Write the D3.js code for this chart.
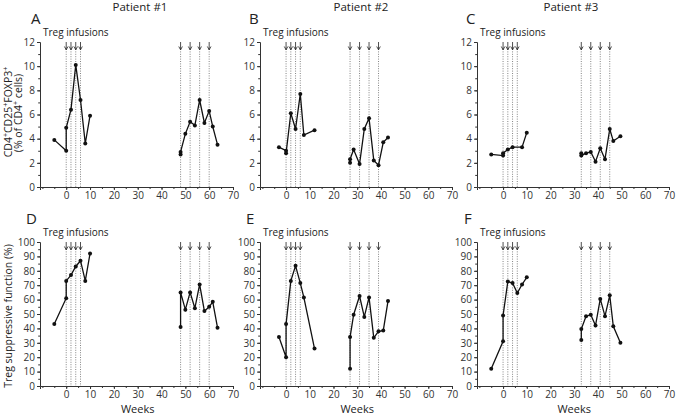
<!DOCTYPE html>
<html><head><meta charset="utf-8">
<script src="https://cdn.jsdelivr.net/npm/d3@7"></script>
<style>
body{margin:0;background:#fff;}
svg{display:block;font-family:"Open Sans",sans-serif;}
</style></head>
<body><svg id="c" width="677" height="415"></svg>
<script>
// ---- data ----
const patients = ["Patient #1", "Patient #2", "Patient #3"];
const panelLetters = ["A", "B", "C", "D", "E", "F"];
const infusions = [
  [0, 2, 4, 6, 48, 52, 56, 60],
  [0, 2, 4, 6, 27, 31, 35, 39],
  [0, 2, 4, 6, 33, 37, 41, 45]
];
// CD4+CD25+FOXP3+ (% of CD4+ cells)
const aWeeks1 = [-5, 0, 0, 2, 4, 6, 8, 10];
const aVals1  = [3.9, 3.0, 4.9, 6.4, 10.1, 7.2, 3.6, 5.9];
const aWeeks2 = [48, 48, 50, 52, 54, 56, 58, 60, 61.5, 63.5];
const aVals2  = [2.7, 2.9, 4.4, 5.4, 5.1, 7.2, 5.3, 6.3, 5.0, 3.5];
const bWeeks1 = [-3, 0, 0, 2, 4, 6, 7.5, 12];
const bVals1  = [3.3, 3.0, 2.8, 6.1, 4.8, 7.7, 4.3, 4.7];
const bWeeks2 = [27, 27, 28.5, 31, 33, 35, 37, 39, 41, 43];
const bVals2  = [2.0, 2.3, 3.1, 1.9, 4.8, 5.7, 2.2, 1.8, 3.7, 4.1];
const cWeeks1 = [-5, 0, 0, 2, 4, 8, 10];
const cVals1  = [2.7, 2.6, 2.8, 3.1, 3.3, 3.3, 4.5];
const cWeeks2 = [33, 33, 35, 37, 39, 41, 43, 45, 46.5, 49.5];
const cVals2  = [2.8, 2.6, 2.8, 2.9, 2.1, 3.2, 2.3, 4.8, 3.8, 4.2];
// Treg suppressive function (%)
const dWeeks1 = [-5, 0, 0, 2, 4, 6, 8, 10];
const dVals1  = [43, 61, 73, 77, 83, 87, 73, 92];
const dWeeks2 = [48, 48, 50, 52, 54, 56, 58, 60, 61.5, 63.5];
const dVals2  = [41, 65, 53, 65, 54, 70.5, 52, 55, 58.5, 40.5];
const eWeeks1 = [-3, 0, 0, 2, 4, 6, 7.5, 12];
const eVals1  = [34, 20, 43, 73, 83.5, 71.5, 61.5, 26];
const eWeeks2 = [27, 27, 28.5, 31, 33, 35, 37, 39, 41, 43];
const eVals2  = [12, 34, 49.5, 62.5, 48, 61.5, 33.5, 38, 38.5, 59];
const fWeeks1 = [-5, 0, 0, 2, 4, 6, 8, 10];
const fVals1  = [12, 31, 49, 72.5, 71.5, 64.5, 70.5, 75.5];
const fWeeks2 = [33, 33, 35, 37, 39, 41, 43, 45, 46.5, 49.5];
const fVals2  = [32, 39.5, 48.5, 49.5, 42, 60.5, 48.5, 63, 41.5, 30];

const xTicks = [0, 10, 20, 30, 40, 50, 60, 70];
const yTicksTop = [0, 2, 4, 6, 8, 10, 12];
const yTicksBottom = [0, 10, 20, 30, 40, 50, 60, 70, 80, 90, 100];

const series = [
  [[aWeeks1, aVals1], [aWeeks2, aVals2]],
  [[bWeeks1, bVals1], [bWeeks2, bVals2]],
  [[cWeeks1, cVals1], [cWeeks2, cVals2]],
  [[dWeeks1, dVals1], [dWeeks2, dVals2]],
  [[eWeeks1, eVals1], [eWeeks2, eVals2]],
  [[fWeeks1, fVals1], [fWeeks2, fVals2]]
];

// ---- layout ----
const svg = d3.select("#c");
const colRanges = [[40, 233], [260, 452], [477, 669]];
const rowRanges = [[187, 42], [386, 242]];
const rowDomains = [[0, 12], [0, 100]];
const rowTicks = [yTicksTop, yTicksBottom];
const rowMinor = [d3.range(0, 12.01, 1), d3.range(0, 100.1, 5)];
const letterPos = [[31, 24], [249, 24], [466, 24], [26, 224], [246, 224], [464, 224]];
const axisColor = "#333";

patients.forEach((p, i) => {
  const cx = [140, 361, 571][i];
  svg.append("text").attr("x", cx).attr("y", 11).attr("text-anchor", "middle")
    .attr("font-size", 11.5).attr("fill", "#222").text(p);
});

for (let r = 0; r < 2; r++) {
  for (let c = 0; c < 3; c++) {
    const idx = r * 3 + c;
    const x = d3.scaleLinear().domain([-11, 70]).range(colRanges[c]);
    const y = d3.scaleLinear().domain(rowDomains[r]).range(rowRanges[r]);
    const g = svg.append("g");
    const x0 = colRanges[c][0];
    const y0 = rowRanges[r][0];
    const yTop = rowRanges[r][1];

    // infusion markers
    infusions[c].forEach(w => {
      const px = x(w);
      g.append("line").attr("x1", px).attr("x2", px).attr("y1", yTop + 7).attr("y2", y0)
        .attr("stroke", "#777").attr("stroke-width", 0.9).attr("stroke-dasharray", "1,1.4");
      g.append("path")
        .attr("d", `M${px},${yTop} L${px},${yTop + 7.5} M${px - 1.8},${yTop + 4.5} L${px},${yTop + 7.8} L${px + 1.8},${yTop + 4.5}`)
        .attr("fill", "none").attr("stroke", "#222").attr("stroke-width", 0.8);
    });

    // axes
    g.append("g").attr("transform", `translate(0,${y0})`)
      .call(d3.axisBottom(x).tickValues(xTicks).tickSize(3).tickPadding(2));
    g.append("g").attr("transform", `translate(0,${y0})`)
      .call(d3.axisBottom(x).tickValues(d3.range(-10, 71, 5)).tickSize(2).tickFormat(""))
      .select(".domain").remove();
    g.append("g").attr("transform", `translate(${x0},0)`)
      .call(d3.axisLeft(y).tickValues(rowTicks[r]).tickSize(3).tickPadding(2));
    g.append("g").attr("transform", `translate(${x0},0)`)
      .call(d3.axisLeft(y).tickValues(rowMinor[r]).tickSize(1.8).tickFormat(""))
      .select(".domain").remove();
    g.selectAll(".domain").attr("stroke", axisColor);
    g.selectAll(".tick line").attr("stroke", axisColor);
    g.selectAll(".tick text").attr("fill", "#333").attr("font-size", 10)
      .attr("font-family", "Open Sans, sans-serif");

    // data lines
    const line = d3.line().x(d => x(d[0])).y(d => y(d[1]));
    series[idx].forEach(([wk, vals]) => {
      const pts = wk.map((w, k) => [w, vals[k]]);
      g.append("path").datum(pts).attr("d", line).attr("fill", "none")
        .attr("stroke", "#111").attr("stroke-width", 1.3);
      g.selectAll(null).data(pts).enter().append("circle")
        .attr("cx", d => x(d[0])).attr("cy", d => y(d[1])).attr("r", 2).attr("fill", "#111");
    });

    // labels
    svg.append("text").attr("x", x0 + 3).attr("y", yTop - 6).attr("font-size", 10)
      .attr("fill", "#222").text("Treg infusions");
    svg.append("text").attr("x", letterPos[idx][0]).attr("y", letterPos[idx][1])
      .attr("font-size", 15).attr("fill", "#222").text(panelLetters[idx]);
    if (r === 1) {
      svg.append("text").attr("x", x(30)).attr("y", 413).attr("text-anchor", "middle")
        .attr("font-size", 11).attr("fill", "#222").text("Weeks");
    }
  }
}

// y-axis titles
const t1 = svg.append("text").attr("transform", "translate(12,112) rotate(-90)")
  .attr("text-anchor", "middle").attr("font-size", 10.5).attr("fill", "#222");
t1.append("tspan").text("CD4");
t1.append("tspan").attr("baseline-shift", "super").attr("font-size", 7).text("+");
t1.append("tspan").text("CD25");
t1.append("tspan").attr("baseline-shift", "super").attr("font-size", 7).text("+");
t1.append("tspan").text("FOXP3");
t1.append("tspan").attr("baseline-shift", "super").attr("font-size", 7).text("+");
const t2 = svg.append("text").attr("transform", "translate(22,113) rotate(-90)")
  .attr("text-anchor", "middle").attr("font-size", 10.5).attr("fill", "#222");
t2.append("tspan").text("(% of CD4");
t2.append("tspan").attr("baseline-shift", "super").attr("font-size", 7).text("+");
t2.append("tspan").text(" cells)");
svg.append("text").attr("transform", "translate(12,316) rotate(-90)")
  .attr("text-anchor", "middle").attr("font-size", 10.5).attr("fill", "#222")
  .text("Treg suppressive function (%)");
</script></body></html>
